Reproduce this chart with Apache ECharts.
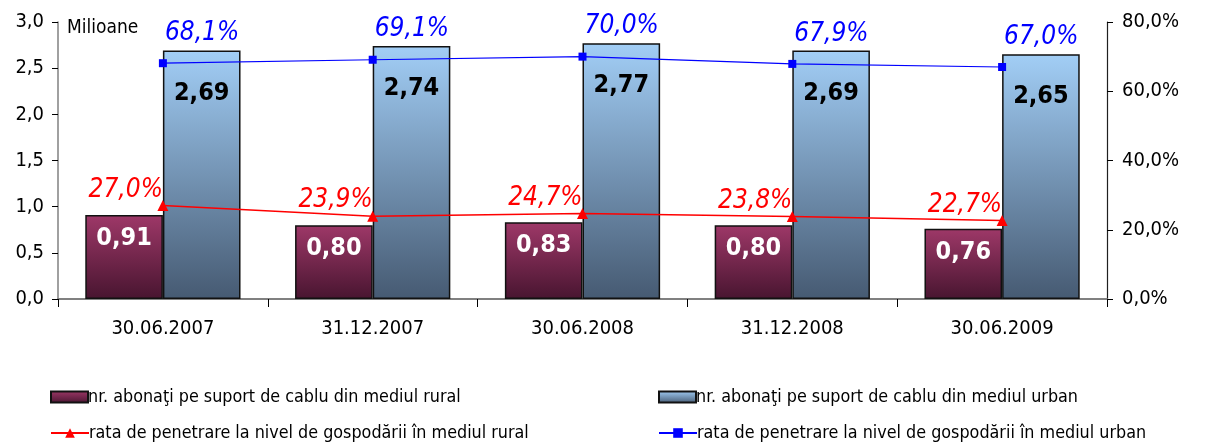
<!DOCTYPE html>
<html>
<head>
<meta charset="utf-8">
<script src="https://cdn.jsdelivr.net/npm/echarts@6/dist/echarts.min.js"></script>
<style>
  html, body { margin: 0; padding: 0; background: #ffffff; }
  #chart { width: 1219px; height: 443px; }
</style>
</head>
<body>
<div id="chart"></div>
<script>
// Cable subscribers (millions) and household penetration rate (%)
const categories = ['30.06.2007', '31.12.2007', '30.06.2008', '31.12.2008', '30.06.2009'];
const ruralSubscribers = [0.91, 0.80, 0.83, 0.80, 0.76];
const urbanSubscribers = [2.69, 2.74, 2.77, 2.69, 2.65];
const ruralPenetration = [27.0, 23.9, 24.7, 23.8, 22.7];
const urbanPenetration = [68.1, 69.1, 70.0, 67.9, 67.0];
const leftTicks = { min: 0, max: 3, interval: 0.5 };
const rightTicks = { min: 0, max: 80, interval: 20 };

const FONT = '"DejaVu Sans Condensed", "DejaVu Sans", sans-serif';
const names = [
  'nr. abonaţi pe suport de cablu din mediul rural',
  'nr. abonaţi pe suport de cablu din mediul urban',
  'rata de penetrare la nivel de gospodării în mediul rural',
  'rata de penetrare la nivel de gospodării în mediul urban'
];

const comma = (v, d) => v.toFixed(d).replace('.', ',');
const vGrad = (top, bottom) => new echarts.graphic.LinearGradient(0, 0, 0, 1, [
  { offset: 0, color: top }, { offset: 1, color: bottom }
]);
const ruralFill = vGrad('#9e3868', '#481530');
const urbanFill = vGrad('#a2cef6', '#465a72');

const legendBase = {
  orient: 'horizontal',
  itemGap: 0,
  textStyle: { fontFamily: FONT, fontSize: 17.8, color: '#000', padding: [0, 0, 0, -5] },
  selectedMode: false
};

const chart = echarts.init(document.getElementById('chart'), null, { renderer: 'canvas' });
chart.setOption({
  animation: false,
  backgroundColor: '#ffffff',
  grid: { left: 58, right: 112, top: 22, bottom: 144, containLabel: false },
  legend: [
    Object.assign({}, legendBase, { left: 45, top: 383, itemWidth: 37, itemHeight: 11, icon: 'rect', data: [names[0]] }),
    Object.assign({}, legendBase, { left: 653, top: 383, itemWidth: 37, itemHeight: 11, icon: 'rect', data: [names[1]] }),
    Object.assign({}, legendBase, { left: 45, top: 419, itemWidth: 38, itemHeight: 12, data: [names[2]] }),
    Object.assign({}, legendBase, { left: 653, top: 419, itemWidth: 38, itemHeight: 12, data: [names[3]] })
  ],
  xAxis: {
    type: 'category',
    data: categories,
    axisLine: { lineStyle: { color: '#808080', width: 2 } },
    axisTick: { show: true, length: 8, lineStyle: { color: '#000', width: 1 } },
    axisLabel: { fontFamily: FONT, fontSize: 20, color: '#000', margin: 20 }
  },
  yAxis: [
    {
      type: 'value',
      min: leftTicks.min, max: leftTicks.max, interval: leftTicks.interval,
      name: 'Milioane',
      nameLocation: 'end',
      nameGap: -6,
      nameTextStyle: { fontFamily: FONT, fontSize: 19, color: '#000', align: 'left', verticalAlign: 'middle', padding: [0, 0, 0, 9] },
      axisLine: { show: true, lineStyle: { color: '#808080', width: 1.5 } },
      axisTick: { show: true, length: 6, lineStyle: { color: '#000' } },
      splitLine: { show: false },
      axisLabel: { fontFamily: FONT, fontSize: 20, color: '#000', margin: 14, formatter: v => comma(v, 1) }
    },
    {
      type: 'value',
      position: 'right',
      min: rightTicks.min, max: rightTicks.max, interval: rightTicks.interval,
      axisLine: { show: true, lineStyle: { color: '#202020', width: 1.2 } },
      axisTick: { show: true, length: 6, lineStyle: { color: '#000' } },
      splitLine: { show: false },
      axisLabel: { fontFamily: FONT, fontSize: 20, color: '#000', margin: 15, formatter: v => comma(v, 1) + '%' }
    }
  ],
  series: [
    {
      name: names[0],
      type: 'bar',
      data: ruralSubscribers,
      barGap: '0%',
      barCategoryGap: '26%',
      itemStyle: { color: ruralFill, borderColor: '#111', borderWidth: 1.5 },
      label: {
        show: true, position: 'insideTop', distance: 11,
        fontFamily: FONT, fontSize: 25, fontWeight: 'bold', color: '#ffffff',
        formatter: p => comma(p.value, 2)
      }
    },
    {
      name: names[1],
      type: 'bar',
      data: urbanSubscribers,
      itemStyle: { color: urbanFill, borderColor: '#111', borderWidth: 1.5 },
      label: {
        show: true, position: 'insideTop', distance: 30,
        fontFamily: FONT, fontSize: 25, fontWeight: 'bold', color: '#000',
        formatter: p => comma(p.value, 2)
      }
    },
    {
      name: names[2],
      type: 'line',
      yAxisIndex: 1,
      data: ruralPenetration,
      symbol: 'triangle',
      symbolSize: 11,
      itemStyle: { color: '#ff0000' },
      lineStyle: { color: '#ff0000', width: 1.5 },
      label: {
        show: true, position: 'top', align: 'right', distance: -3, offset: [0, 0],
        fontFamily: FONT, fontSize: 26, fontStyle: 'italic', color: '#ff0000',
        formatter: p => comma(p.value, 1) + '%'
      },
      z: 5
    },
    {
      name: names[3],
      type: 'line',
      yAxisIndex: 1,
      data: urbanPenetration,
      symbol: 'rect',
      symbolSize: 8,
      itemStyle: { color: '#0000ff' },
      lineStyle: { color: '#0000ff', width: 1.2 },
      label: {
        show: true, position: 'top', align: 'left', distance: 13, offset: [2, 0],
        fontFamily: FONT, fontSize: 26, fontStyle: 'italic', color: '#0000ff',
        formatter: p => comma(p.value, 1) + '%'
      },
      z: 5
    }
  ]
});
</script>
</body>
</html>
